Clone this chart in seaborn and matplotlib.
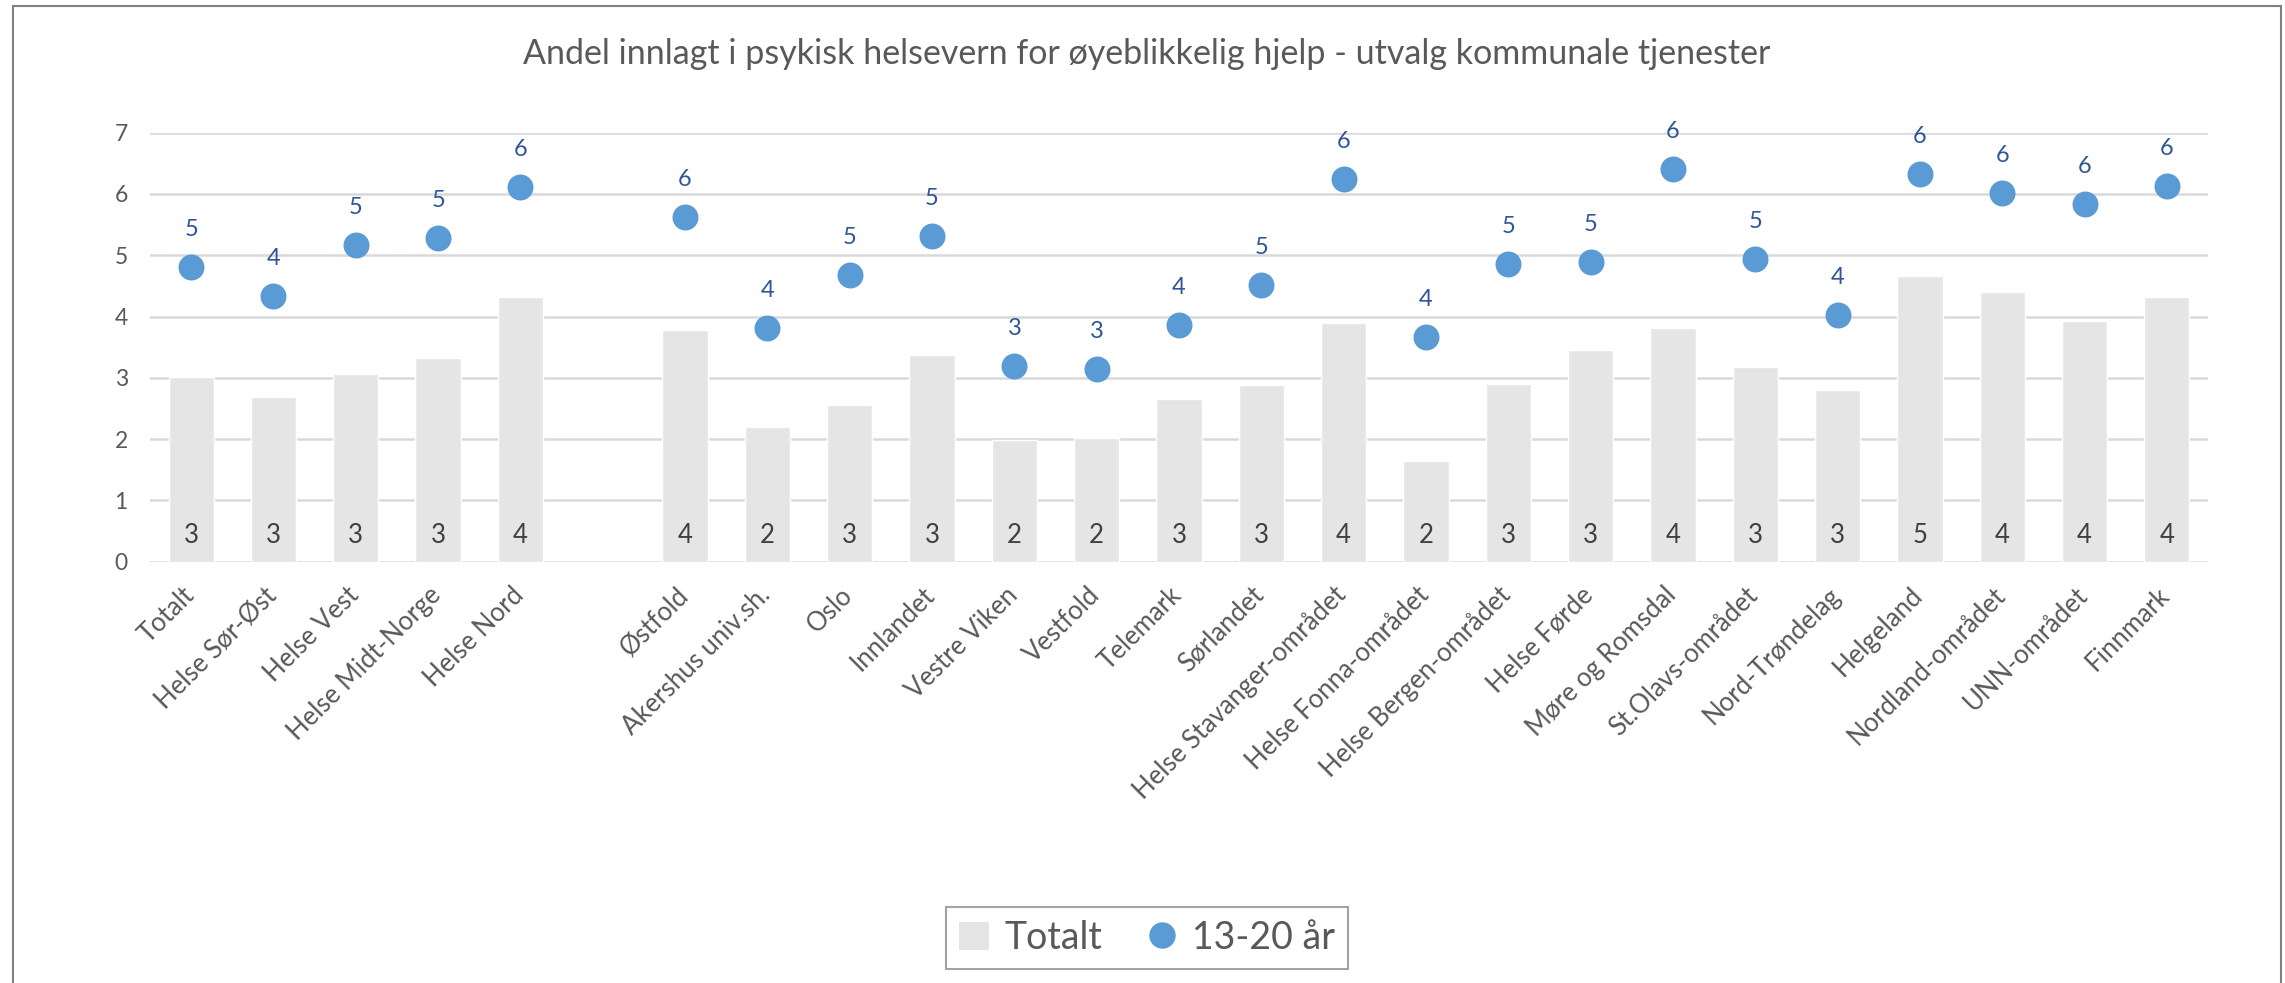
import pandas as pd
import seaborn as sns
import matplotlib.pyplot as plt
import matplotlib.transforms as mtransforms
from matplotlib.patches import Patch, Rectangle
from matplotlib.lines import Line2D

# helseregioner (first group) and helseforetak-områder (second group)
regioner = ["Totalt", "Helse Sør-Øst", "Helse Vest", "Helse Midt-Norge", "Helse Nord"]
omrader = ["Østfold", "Akershus univ.sh.", "Oslo", "Innlandet", "Vestre Viken",
           "Vestfold", "Telemark", "Sørlandet", "Helse Stavanger-området",
           "Helse Fonna-området", "Helse Bergen-området", "Helse Førde",
           "Møre og Romsdal", "St.Olavs-området", "Nord-Trøndelag", "Helgeland",
           "Nordland-området", "UNN-området", "Finnmark"]

totalt = [3.01, 2.68, 3.06, 3.33, 4.32,
          3.78, 2.19, 2.55, 3.38, 1.98, 2.02, 2.66, 2.89, 3.89, 1.64, 2.90,
          3.45, 3.81, 3.18, 2.80, 4.66, 4.40, 3.93, 4.32]
ungdom = [4.81, 4.33, 5.16, 5.28, 6.11,
          5.62, 3.81, 4.67, 5.32, 3.19, 3.15, 3.86, 4.52, 6.25, 3.67, 4.85,
          4.89, 6.40, 4.94, 4.02, 6.32, 6.02, 5.84, 6.13]

title = "Andel innlagt i psykisk helsevern for øyeblikkelig hjelp - utvalg kommunale tjenester"

GREY = "#E5E5E5"
BLUE = "#5B9BD5"
TXT = "#595959"

df = pd.DataFrame({"omrade": regioner + omrader, "totalt": totalt, "ungdom": ungdom})
order = regioner + [" "] + omrader  # empty slot between the two groups

sns.set_theme(style="white")
plt.rcParams["font.family"] = ["Lato", "DejaVu Sans"]

fig = plt.figure(figsize=(22.85, 9.83), dpi=100)
ax = fig.add_axes([150 / 2285, 1 - 561.7 / 983, 2058 / 2285, 429 / 983])

sns.barplot(data=df, x="omrade", y="totalt", order=order, color=GREY,
            saturation=1, width=0.55, errorbar=None, ax=ax, zorder=2)
sns.stripplot(data=df, x="omrade", y="ungdom", order=order, jitter=False,
              color=BLUE, size=18.7, linewidth=0, ax=ax, zorder=3)

for name, t, u in zip(df["omrade"], df["totalt"], df["ungdom"]):
    i = order.index(name)
    ax.annotate(f"{t:.0f}", xy=(i, 0.43), ha="center", va="center",
                fontsize=18.5, color="#404040", zorder=4)
    ax.annotate(f"{u:.0f}", xy=(i, u), xytext=(0, 27), textcoords="offset points",
                ha="center", va="center", fontsize=17, color="#2F5597", zorder=4)

ax.set_ylim(0, 7)
ax.set_xlim(-0.5, len(order) - 0.5)
ax.set_yticks(range(8))
ax.set_xlabel("")
ax.set_ylabel("")
sns.despine(ax=ax, left=True, bottom=True)
ax.yaxis.grid(True, color="#D9D9D9", lw=1.8)
ax.set_axisbelow(True)
ax.tick_params(axis="y", length=0, pad=16, labelsize=16.5, labelcolor=TXT)
ax.tick_params(axis="x", length=0, pad=15, labelsize=18.5, labelcolor=TXT)
shift = mtransforms.ScaledTranslation(-7 / 72, 0, fig.dpi_scale_trans)
for lbl in ax.get_xticklabels():
    lbl.set_rotation(45)
    lbl.set_ha("right")
    lbl.set_rotation_mode("anchor")
    lbl.set_transform(lbl.get_transform() + shift)

fig.text(1147 / 2285, 1 - 54 / 983, title, ha="center", va="center",
         fontsize=24.5, color=TXT)

handles = [Patch(facecolor=GREY, edgecolor="none", label="Totalt"),
           Line2D([], [], marker="o", ls="none", markersize=18, color=BLUE,
                  label="13-20 år")]
leg = fig.legend(handles=handles, loc="center", ncol=2,
                 bbox_to_anchor=(1147 / 2285, 1 - 938 / 983), fontsize=27,
                 frameon=True, fancybox=False, edgecolor="#8C8C8C",
                 handlelength=0.8, handleheight=0.8, handletextpad=0.4,
                 columnspacing=1.2, borderpad=0.35)
leg.get_frame().set_linewidth(1.5)
for txt in leg.get_texts():
    txt.set_color(TXT)

fig.patches.append(Rectangle((13 / 2285, -0.02), 2268 / 2285, 1 + 0.02 - 6 / 983,
                             transform=fig.transFigure, fill=False,
                             edgecolor="#808080", lw=1.5))

fig.savefig("out.png", dpi=100, facecolor="white")
